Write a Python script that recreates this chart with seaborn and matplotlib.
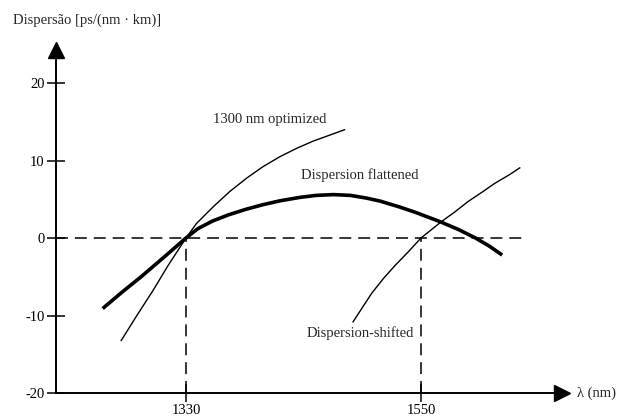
import matplotlib
matplotlib.use("Agg")
import matplotlib.pyplot as plt
import seaborn as sns
import pandas as pd

# ---- data ----
wl_opt = [1269, 1284, 1299, 1313, 1330, 1340, 1356, 1371, 1387, 1402, 1418, 1434, 1449, 1465, 1479]
d_opt = [-13.3, -10.0, -6.8, -3.6, 0.0, 1.9, 4.1, 6.0, 7.75, 9.2, 10.5, 11.6, 12.5, 13.3, 14.0]

wl_flat = [1252, 1270, 1288, 1310, 1330, 1341, 1355, 1370, 1386, 1402, 1418, 1437, 1452, 1468,
           1484, 1499, 1512, 1530, 1545, 1568, 1585, 1601, 1614, 1626]
d_flat = [-9.1, -7.0, -5.0, -2.4, 0.0, 1.2, 2.2, 3.0, 3.7, 4.3, 4.8, 5.25, 5.5, 5.6,
          5.5, 5.15, 4.75, 4.0, 3.3, 2.1, 1.1, 0.0, -1.05, -2.2]

wl_shift = [1486, 1504, 1515, 1526, 1538, 1550, 1569, 1582, 1594, 1607, 1619, 1632, 1643]
d_shift = [-10.9, -7.1, -5.2, -3.5, -1.8, 0.0, 2.1, 3.4, 4.7, 5.9, 7.05, 8.1, 9.1]

zero_wavelengths = [1330, 1550]
xtick_labels = ["1330", "1550"]
yticks = [-20, -10, 0, 10, 20]
ytick_labels = ["-20", "-10", "0", "10", "20"]

curve_names = ["1300 nm optimized", "Dispersion flattened", "Dispersion-shifted"]
label_pos = [(1408, 15.35), (1493, 8.1), (1493, -12.3)]

sns.set_style("white")
plt.rcParams["font.family"] = ["Liberation Serif", "DejaVu Serif"]
plt.rcParams["lines.scale_dashes"] = False

FS = 10.5

fig = plt.figure(figsize=(6.18, 4.19), dpi=100)
ax = fig.add_axes([56 / 618, 26 / 419, 506 / 618, 343 / 419])

curves = [(wl_opt, d_opt, 1.0), (wl_flat, d_flat, 2.6), (wl_shift, d_shift, 1.0)]
for (wl, d, lw), name in zip(curves, curve_names):
    df = pd.DataFrame({"wl": wl, "d": d})
    sns.lineplot(data=df, x="wl", y="d", sort=False, ax=ax, color="black",
                 linewidth=lw, solid_capstyle="butt", solid_joinstyle="round")

dash = (0, (8.6, 5.0))
ax.hlines(0, 1208.3, 1650, colors="black", linewidth=1.1, linestyles=[dash])
ax.vlines(zero_wavelengths, -20, 0, colors="black", linewidth=1.1, linestyles=[dash])

for name, (x, y) in zip(curve_names, label_pos):
    ax.text(x, y, name, ha="center", va="center", fontsize=FS)

ax.set_xlim(1208.3, 1682.0)
ax.set_ylim(-20, 24.26)
ax.set_xticks(zero_wavelengths)
ax.set_xticklabels(xtick_labels)
ax.set_yticks(yticks)
ax.set_yticklabels(ytick_labels)
ax.set_xlabel("")
ax.set_ylabel("")
ax.tick_params(bottom=True, left=True, direction="inout", length=12.5, width=1.1,
               colors="black", labelsize=FS, pad=2)

for s in ["top", "right"]:
    ax.spines[s].set_visible(False)
for s in ["left", "bottom"]:
    ax.spines[s].set_linewidth(1.4)
    ax.spines[s].set_color("black")

ax.plot(1, 0, ">", color="black", ms=11, transform=ax.transAxes, clip_on=False)
ax.plot(0, 1, "^", color="black", ms=11, transform=ax.transAxes, clip_on=False)

fig.text(13 / 618, 1 - 20 / 419, "Dispersão [ps/(nm · km)]", ha="left", va="center", fontsize=FS)
fig.text(577 / 618, 1 - 393 / 419, "λ (nm)", ha="left", va="center", fontsize=FS)

fig.savefig("out.png", dpi=100)
